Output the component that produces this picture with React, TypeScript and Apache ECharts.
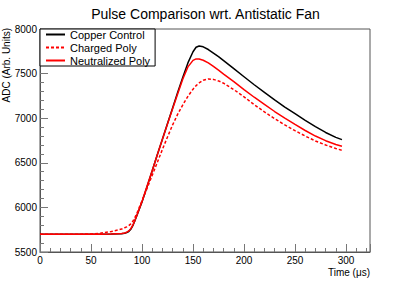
import React, { useEffect, useRef } from "react";
import * as echarts from "echarts";

const chartTitle = "Pulse Comparison wrt. Antistatic Fan";
const xTitle = "Time (μs)";
const yTitle = "ADC (Arb. Units)";
const seriesNames = ["Copper Control", "Charged Poly", "Neutralized Poly"];

const timeUs = [
  0, 10, 20, 30, 40, 50, 60, 70, 80, 83, 85, 87, 89, 91, 93, 95, 100, 105, 110, 115, 120, 125, 130, 135,
  140, 145, 150, 153, 156, 160, 165, 170, 175, 180, 190, 200, 210, 220, 230, 240, 250, 260, 270, 280, 290, 296,
];

const copperControl = [
  5700, 5700, 5700, 5700, 5700, 5700, 5700, 5701, 5705, 5710, 5718, 5730, 5755, 5795, 5850, 5910, 6060, 6235,
  6410, 6590, 6765, 6940, 7115, 7290, 7460, 7620, 7745, 7795, 7810, 7800, 7770, 7730, 7690, 7645, 7555, 7465,
  7375, 7290, 7205, 7125, 7050, 6975, 6905, 6840, 6785, 6760,
];

const chargedPoly = [
  5700, 5700, 5700, 5700, 5700, 5702, 5712, 5730, 5757, 5772, 5782, 5795, 5815, 5845, 5885, 5935, 6075, 6215,
  6360, 6505, 6650, 6790, 6925, 7045, 7150, 7245, 7325, 7365, 7395, 7425, 7440, 7435, 7418, 7392, 7320, 7240,
  7152, 7070, 6995, 6925, 6860, 6800, 6745, 6700, 6660, 6640,
];

const neutralizedPoly = [
  5700, 5700, 5700, 5700, 5700, 5700, 5700, 5702, 5707, 5713, 5722, 5736, 5762, 5800, 5852, 5912, 6065, 6240,
  6412, 6590, 6763, 6935, 7105, 7275, 7440, 7575, 7648, 7665, 7663, 7650, 7620, 7580, 7538, 7495, 7410, 7320,
  7235, 7155, 7075, 7000, 6930, 6862, 6800, 6748, 6705, 6685,
];

const xMin = 0;
const xMax = 323.5;
const xInterval = 50;
const yMin = 5500;
const yMax = 8000;
const yInterval = 500;

const pair = (xs: number[], ys: number[]) => xs.map((x, i) => [x, ys[i]]);

const FONT = "'Liberation Sans', Arial, Helvetica, sans-serif";

export default function App() {
  const ref = useRef<HTMLDivElement>(null);
  useEffect(() => {
    if (!ref.current) return;
    const chart = echarts.init(ref.current, undefined, { renderer: "svg" });
    const axisCommon = {
      splitLine: { show: false },
      axisLine: { show: true, onZero: false, lineStyle: { color: "#555", width: 1 } },
      axisTick: { show: true, inside: true, length: 8, lineStyle: { color: "#777" } },
      minorTick: { show: true, splitNumber: 5, length: 4, lineStyle: { color: "#777" } },
      axisLabel: { color: "#000", fontSize: 10, fontFamily: FONT, formatter: (v: number) => String(v) },
    };
    chart.setOption({
      animation: false,
      backgroundColor: "#fff",
      title: {
        text: chartTitle,
        left: "center",
        top: 2,
        textStyle: { fontSize: 14, fontWeight: "normal", color: "#000", fontFamily: FONT },
      },
      legend: {
        orient: "vertical",
        left: 40,
        top: 29,
        padding: [0, 5, 0, 5],
        itemGap: 2,
        itemWidth: 19,
        itemHeight: 11,
        backgroundColor: "#fff",
        borderColor: "#000",
        borderWidth: 1,
        borderRadius: 0,
        itemStyle: { color: "rgba(0,0,0,0)", borderColor: "rgba(0,0,0,0)", borderWidth: 0, opacity: 0 },
        textStyle: { fontSize: 11, color: "#000", fontFamily: FONT, lineHeight: 11 },
        data: seriesNames,
      },
      grid: { left: 40, right: 41, top: 29, bottom: 29, show: true, borderColor: "#555", borderWidth: 1, containLabel: false },
      xAxis: {
        type: "value",
        min: xMin,
        max: xMax,
        interval: xInterval,
        ...axisCommon,
        axisLabel: { ...axisCommon.axisLabel, margin: 3, showMaxLabel: false },
      },
      yAxis: {
        type: "value",
        min: yMin,
        max: yMax,
        interval: yInterval,
        ...axisCommon,
        axisLabel: { ...axisCommon.axisLabel, margin: 3 },
      },
      graphic: [
        {
          type: "text",
          x: 6,
          y: 28,
          rotation: Math.PI / 2,
          style: { text: yTitle, fontSize: 10, fill: "#000", fontFamily: FONT, align: "right", verticalAlign: "middle" },
        },
        {
          type: "text",
          right: 41,
          top: 267,
          style: { text: xTitle, fontSize: 10, fill: "#000", fontFamily: FONT },
        },
      ],
      series: [
        {
          name: seriesNames[0],
          type: "line",
          data: pair(timeUs, copperControl),
          symbol: "none",
          lineStyle: { color: "#000", width: 1.5 },
          itemStyle: { color: "#000" },
        },
        {
          name: seriesNames[1],
          type: "line",
          data: pair(timeUs, chargedPoly),
          symbol: "none",
          lineStyle: { color: "#ff0000", width: 1.5, type: [3, 2] },
          itemStyle: { color: "#ff0000" },
        },
        {
          name: seriesNames[2],
          type: "line",
          data: pair(timeUs, neutralizedPoly),
          symbol: "none",
          lineStyle: { color: "#ff0000", width: 1.5 },
          itemStyle: { color: "#ff0000" },
        },
      ],
    });
    return () => chart.dispose();
  }, []);
  return <div ref={ref} style={{ position: "fixed", left: 0, top: 0, width: 411, height: 281 }} />;
}
